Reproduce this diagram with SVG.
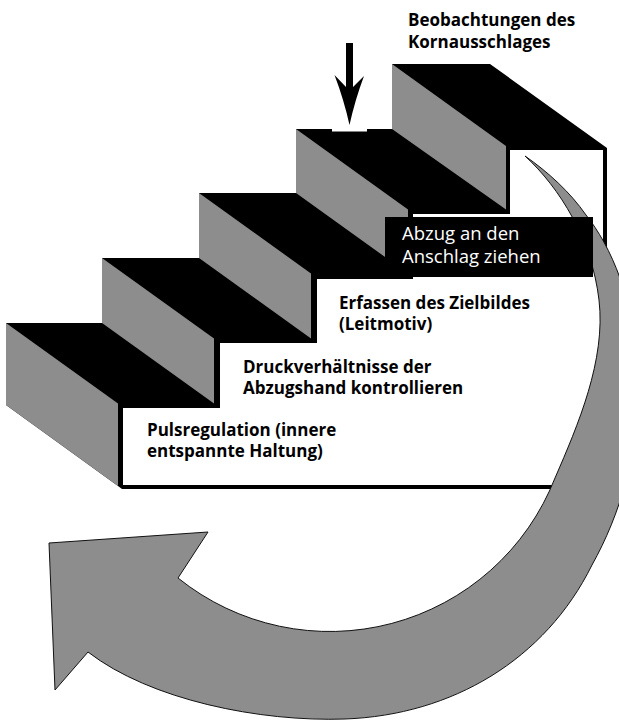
<svg xmlns="http://www.w3.org/2000/svg" width="619" height="721" viewBox="0 0 619 721">
  <style>
    .base { fill: #000; }
    .riser { fill: #8d8d8d; }
    .front { fill: #fff; }
    .lbl { font-family: "Open Sans", "Liberation Sans", sans-serif; font-weight: 700; font-size: 17px; fill: #000; }
    .lbl-inv { font-family: "Open Sans", "Liberation Sans", sans-serif; font-weight: 400; font-size: 18.5px; fill: #fff; }
    .band { fill: #8d8d8d; stroke: #111; stroke-width: 1; stroke-linejoin: round; }
    .pointer { fill: #000; }
  </style>

  <rect width="619" height="721" fill="#fff"/>

  <!-- solid body of the staircase: treads and outline -->
  <g id="staircase-body">
    <polygon class="base" points="6,323 102,323 102,258 199,258 199,193 296,193 296,129 392,129 392,64 490,64 607,148 607,489 122,489 118,486 6,405"/>
  </g>

  <!-- step 1 -->
  <g id="step1">
    <polygon class="riser" points="6,323 118,403.5 118,486 6,405"/>
    <rect class="front" x="123" y="408" width="480" height="77"/>
    <text class="lbl" x="147" y="436">Pulsregulation (innere</text>
    <text class="lbl" x="147" y="457">entspannte Haltung)</text>
  </g>

  <!-- step 2 -->
  <g id="step2">
    <polygon class="riser" points="102,258 214,338.5 214,403.5 102,323"/>
    <rect class="front" x="220" y="343" width="383" height="65"/>
    <text class="lbl" x="243" y="373">Druckverhältnisse der</text>
    <text class="lbl" x="243" y="394">Abzugshand kontrollieren</text>
  </g>

  <!-- step 3 -->
  <g id="step3">
    <polygon class="riser" points="199,193 311,273.5 311,338.5 199,258"/>
    <rect class="front" x="317" y="279" width="286" height="64"/>
    <text class="lbl" x="339" y="309">Erfassen des Zielbildes</text>
    <text class="lbl" x="339" y="330">(Leitmotiv)</text>
  </g>

  <!-- step 4 -->
  <g id="step4">
    <polygon class="riser" points="296,129 408,209.5 408,273.5 296,193"/>
    <rect class="front" x="413" y="214" width="190" height="65"/>
    <rect fill="#fff" x="332" y="128.5" width="35" height="3"/>
  </g>

  <!-- step 5 -->
  <g id="step5">
    <polygon class="riser" points="392,64 506,146 506,209.5 392,129"/>
    <rect class="front" x="510" y="150" width="93" height="64"/>
    <text class="lbl" x="408" y="26">Beobachtungen des</text>
    <text class="lbl" x="408" y="48">Kornausschlages</text>
  </g>

  <!-- arrows -->
  <g id="connectors">
    <path class="band" d="M525,156 C560,188 592,240 599,300 C606,360 578,425 555,478 A242,242 0 0 1 178,578 L208,532 L49,543 L55,690 L88,652 C150,700 260,722 345,719 C452,715 545,660 592,565 C620,515 640,450 638,380 C636,300 610,245 586,215 C570,192 548,172 525,156 Z"/>
    <path class="pointer" d="M346,43 L353,43 L353,87 L364,76 Q355,100 349.5,125 Q344,100 334.5,75 L346,87 Z"/>
  </g>

  <!-- highlighted label on step 4 -->
  <g id="step4-label">
    <rect fill="#000" x="385" y="217" width="208" height="60"/>
    <text class="lbl-inv" x="402" y="240">Abzug an den</text>
    <text class="lbl-inv" x="402" y="263">Anschlag ziehen</text>
  </g>
</svg>
